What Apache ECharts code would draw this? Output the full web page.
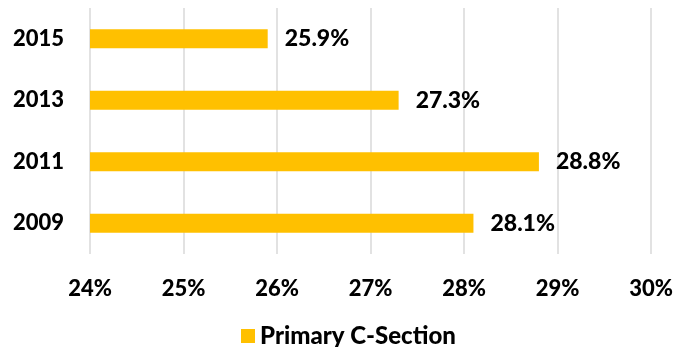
<!DOCTYPE html>
<html>
<head>
<meta charset="utf-8">
<script src="https://cdn.jsdelivr.net/npm/echarts@6/dist/echarts.min.js"></script>
<style>
html, body { margin: 0; padding: 0; background: #fff; }
#chart { width: 676px; height: 347px; }
</style>
</head>
<body>
<div id="chart"></div>
<script>
// Primary C-Section rates by survey year
const years = ['2009', '2011', '2013', '2015'];
const rates = [28.1, 28.8, 27.3, 25.9];
const seriesName = 'Primary C-Section';
const axisMin = 24, axisMax = 30, axisStep = 1;

const font = 'Lato, "Open Sans", sans-serif';

const chart = echarts.init(document.getElementById('chart'), null, { renderer: 'canvas' });
chart.setOption({
  animation: false,
  backgroundColor: '#ffffff',
  grid: { left: 90, right: 24, top: 8, bottom: 93, containLabel: false },
  legend: {
    data: [seriesName],
    left: 236,
    top: 319,
    itemWidth: 14,
    itemHeight: 14,
    itemGap: 6,
    icon: 'rect',
    textStyle: { fontFamily: font, fontWeight: 900, fontSize: 24, color: '#000' }
  },
  xAxis: {
    type: 'value',
    min: axisMin,
    max: axisMax,
    interval: axisStep,
    axisLine: { show: false },
    axisTick: { show: false },
    splitLine: { show: true, lineStyle: { color: '#d9d9d9', width: 1.5 } },
    axisLabel: {
      margin: 24,
      formatter: v => v + '%',
      fontFamily: font, fontWeight: 900, fontSize: 22, color: '#000'
    }
  },
  yAxis: {
    type: 'category',
    data: years,
    axisLine: { show: false },
    axisTick: { show: false },
    axisLabel: {
      margin: 26,
      fontFamily: font, fontWeight: 900, fontSize: 22, color: '#000'
    }
  },
  series: [{
    name: seriesName,
    type: 'bar',
    data: rates,
    barWidth: 19,
    itemStyle: { color: '#ffc000' },
    label: {
      show: true,
      position: 'right',
      distance: 17,
      formatter: p => p.value.toFixed(1) + '%',
      fontFamily: font, fontWeight: 900, fontSize: 23, color: '#000'
    }
  }]
});
</script>
</body>
</html>
